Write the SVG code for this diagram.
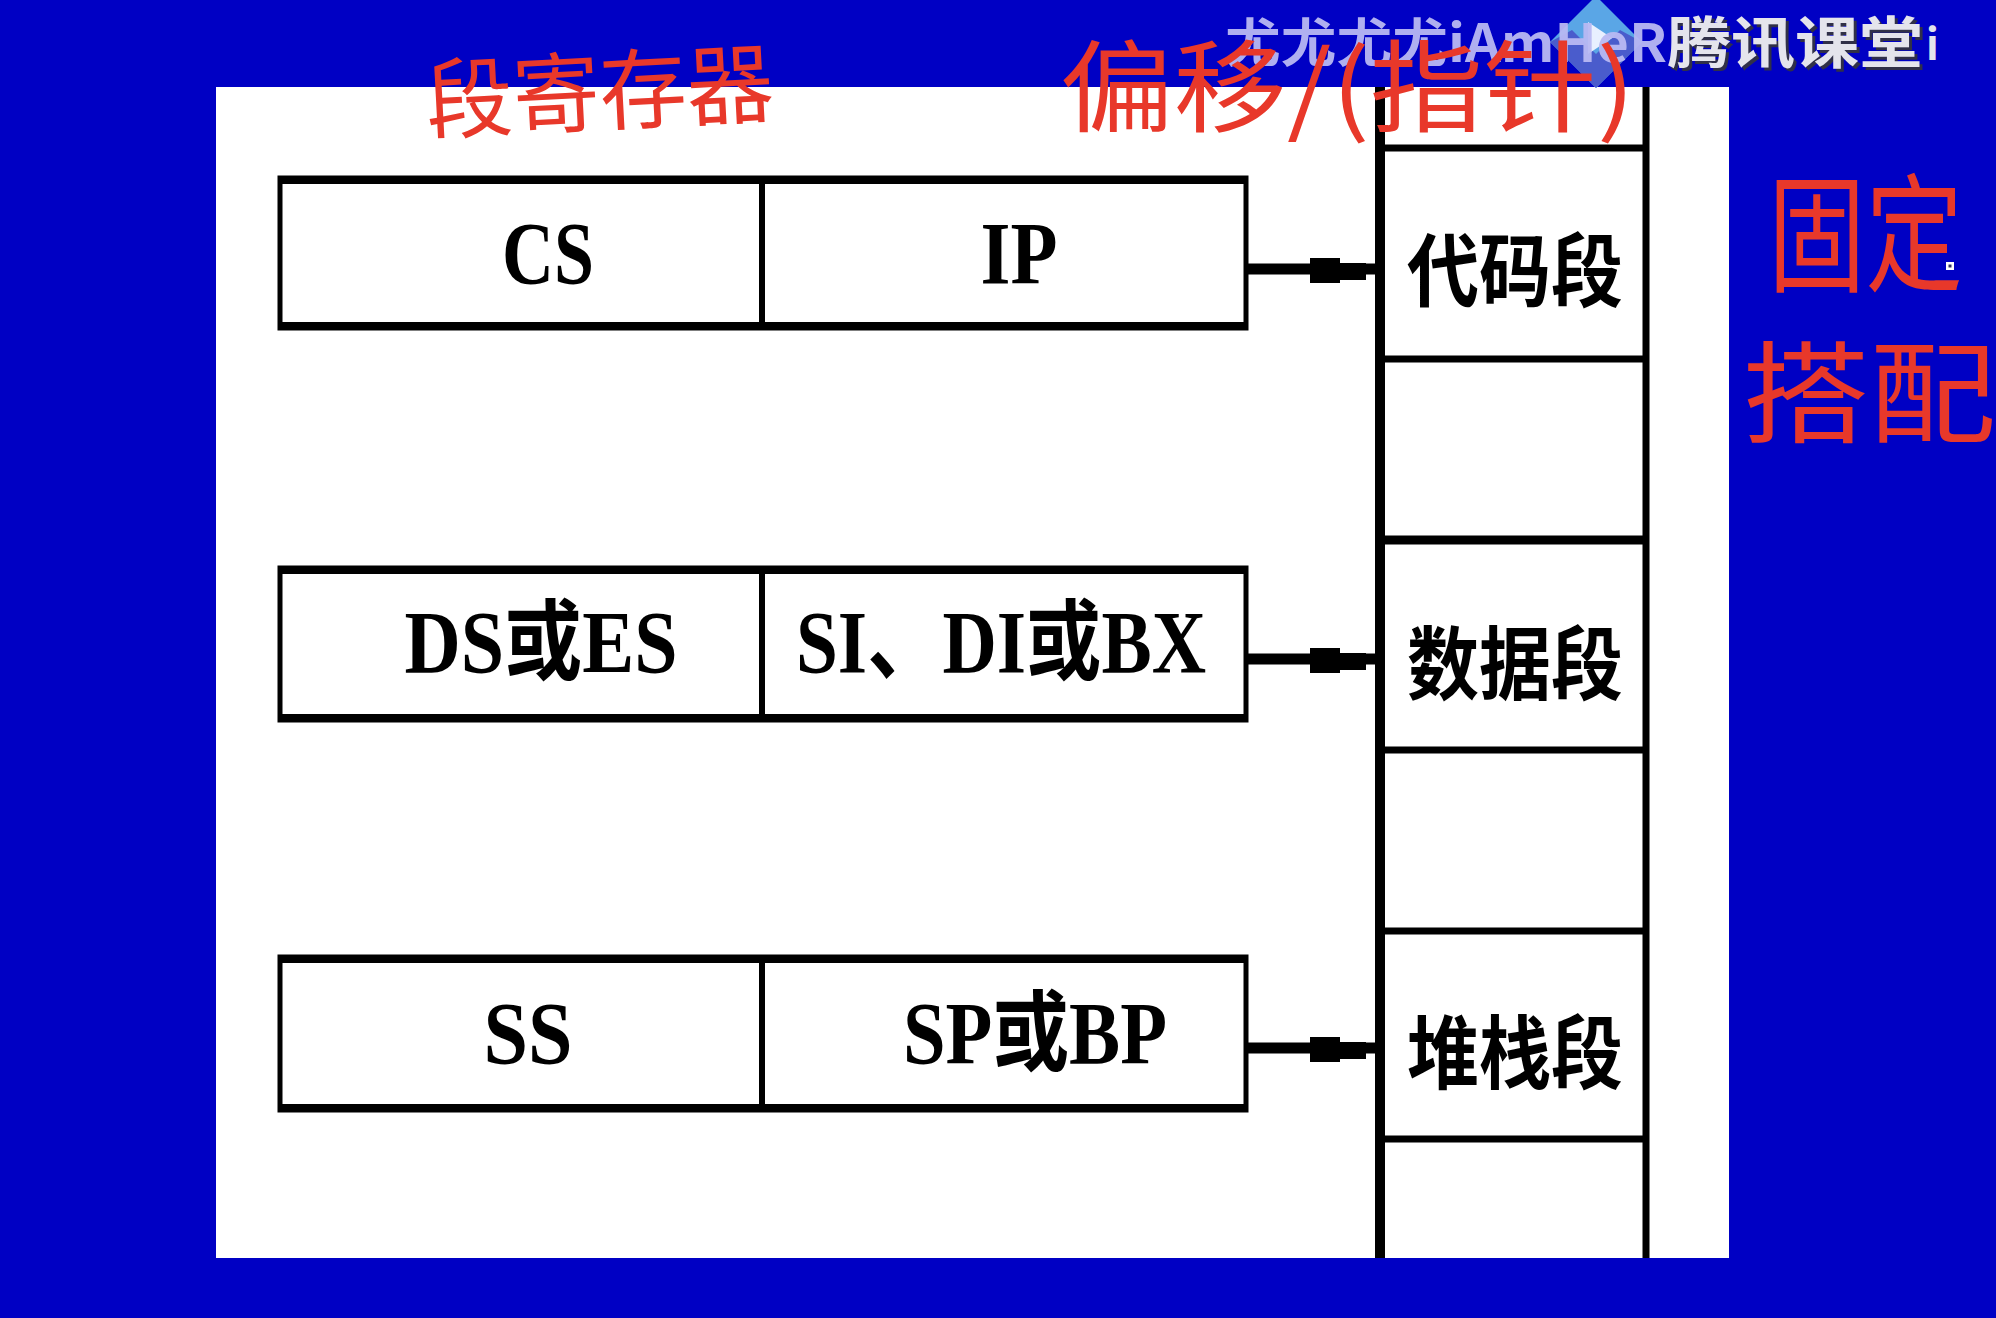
<svg xmlns="http://www.w3.org/2000/svg" width="1996" height="1318" viewBox="0 0 1996 1318">
<defs>
<style>
.reg{fill:none;stroke:#000;stroke-width:5}
.edge{stroke:#000;stroke-width:8}
.div{stroke:#000;stroke-width:6}
.lbl{font-family:"Liberation Serif","Noto Sans CJK SC",serif;font-weight:bold;font-size:88px;fill:#000;text-anchor:middle}
.seg{font-family:"Noto Sans CJK SC",sans-serif;font-weight:bold;font-size:80px;fill:#000;text-anchor:middle;dominant-baseline:central}
.mem{stroke:#000;stroke-width:7}
.conn{stroke:#000;stroke-width:11;fill:none}
.head{fill:#000}
.hand{font-family:"Noto Sans CJK SC",sans-serif;font-weight:400;fill:#E8382A}
.wm{font-family:"Noto Sans CJK SC",sans-serif;font-weight:bold}
</style>
</defs>
<rect x="0" y="0" width="1996" height="1318" fill="#0000C4"/>
<rect x="216" y="87" width="1513" height="1171" fill="#FFFFFF"/>

<g id="memory">
<line class="mem" x1="1380" y1="87" x2="1380" y2="1258" style="stroke-width:10"/>
<line class="mem" x1="1646" y1="87" x2="1646" y2="1258"/>
<line class="mem" x1="1380" y1="148" x2="1646" y2="148"/>
<line class="mem" x1="1380" y1="359" x2="1646" y2="359"/>
<line class="mem" x1="1380" y1="540" x2="1646" y2="540" style="stroke-width:9"/>
<line class="mem" x1="1380" y1="750" x2="1646" y2="750"/>
<line class="mem" x1="1380" y1="931" x2="1646" y2="931"/>
<line class="mem" x1="1380" y1="1139" x2="1646" y2="1139"/>
</g>
<g id="seg-code"><text class="seg" x="1515" y="265" textLength="216" lengthAdjust="spacingAndGlyphs">代码段</text></g>
<g id="seg-data"><text class="seg" x="1515" y="658" textLength="216" lengthAdjust="spacingAndGlyphs">数据段</text></g>
<g id="seg-stack"><text class="seg" x="1515" y="1047" textLength="216" lengthAdjust="spacingAndGlyphs">堆栈段</text></g>

<g id="row-cs-ip">
<rect class="reg" x="280" y="178" width="966" height="150"/>
<line class="edge" x1="278" y1="180" x2="1248" y2="180"/>
<line class="edge" x1="278" y1="326" x2="1248" y2="326"/>
<line class="div" x1="762" y1="178" x2="762" y2="328"/>
<text class="lbl" x="548" y="283" textLength="92" lengthAdjust="spacingAndGlyphs">CS</text>
<text class="lbl" x="1019" y="283" textLength="77" lengthAdjust="spacingAndGlyphs">IP</text>
</g>
<g id="row-ds-si">
<rect class="reg" x="280" y="568" width="966" height="152"/>
<line class="edge" x1="278" y1="570" x2="1248" y2="570"/>
<line class="edge" x1="278" y1="718" x2="1248" y2="718"/>
<line class="div" x1="762" y1="568" x2="762" y2="720"/>
<text class="lbl" x="541" y="672" textLength="273" lengthAdjust="spacingAndGlyphs">DS或ES</text>
<text class="lbl" x="1001" y="672" textLength="410" lengthAdjust="spacingAndGlyphs">SI、DI或BX</text>
</g>
<g id="row-ss-sp">
<rect class="reg" x="280" y="957" width="966" height="153"/>
<line class="edge" x1="278" y1="959" x2="1248" y2="959"/>
<line class="edge" x1="278" y1="1108" x2="1248" y2="1108"/>
<line class="div" x1="762" y1="957" x2="762" y2="1110"/>
<text class="lbl" x="528" y="1063" textLength="89" lengthAdjust="spacingAndGlyphs">SS</text>
<text class="lbl" x="1035" y="1063" textLength="264" lengthAdjust="spacingAndGlyphs">SP或BP</text>
</g>

<g id="connectors">
<line class="conn" x1="1246" y1="269" x2="1380" y2="269"/>
<path class="head" d="M1310,258 H1340 V263 H1366 V280 H1340 V283 H1310 Z"/>
<line class="conn" x1="1246" y1="659" x2="1380" y2="659"/>
<path class="head" d="M1310,648 H1340 V653 H1366 V670 H1340 V673 H1310 Z"/>
<line class="conn" x1="1246" y1="1048" x2="1380" y2="1048"/>
<path class="head" d="M1310,1037 H1340 V1042 H1366 V1059 H1340 V1062 H1310 Z"/>
</g>

<g id="watermark">
<path d="M1596,-4 L1642,42 L1596,88 L1550,42 Z" fill="#5AA6E6"/>
<path d="M1550,42 L1596,88 L1642,42 L1620,30 L1596,54 L1572,30 Z" fill="#4A5CCC"/>
<path d="M1588,22 L1612,38 L1588,54 Z" fill="#E8F0FF"/>
<text class="wm" x="1225" y="62" font-size="52" fill="#B8B8F2" fill-opacity="0.95" textLength="442" lengthAdjust="spacingAndGlyphs">尤尤尤尤iAmHeR</text>
<text class="wm" x="1670" y="66" font-size="56" fill="#303048" textLength="256" lengthAdjust="spacingAndGlyphs">腾讯课堂</text>
<text class="wm" x="1667" y="63" font-size="56" fill="#E4E4EC" textLength="256" lengthAdjust="spacingAndGlyphs">腾讯课堂</text>
<text class="wm" x="1926" y="60" font-size="42" fill="#E4E4EC">i</text>
</g>

<g id="annotations">
<text class="hand" x="425" y="124" font-size="88" textLength="348" lengthAdjust="spacingAndGlyphs" transform="rotate(-3 600 80)">段寄存器</text>
<text class="hand" x="1060" y="124" font-size="100" textLength="575" lengthAdjust="spacingAndGlyphs">偏移/(指针)</text>
<text class="hand" x="1768" y="282" font-size="128" textLength="195" lengthAdjust="spacingAndGlyphs">固定</text>
<text class="hand" x="1742" y="434" font-size="110" textLength="254" lengthAdjust="spacingAndGlyphs">搭配</text>
<rect x="1946" y="262" width="8" height="8" fill="#FFFFFF"/>
<rect x="1948.5" y="264.5" width="3" height="3" fill="#303060"/>
</g>
</svg>
